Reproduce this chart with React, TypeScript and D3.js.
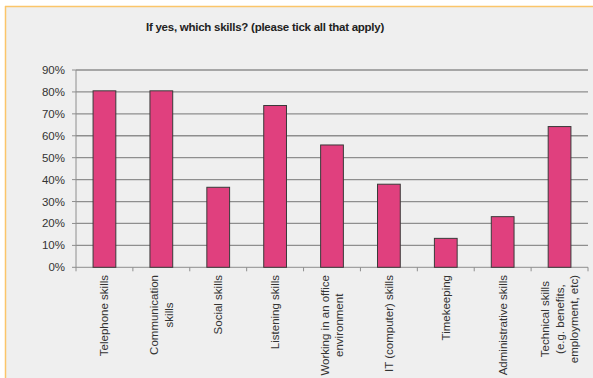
import React from "react";
import * as d3 from "d3";

const categories: string[][] = [
  ["Telephone skills"],
  ["Communication", "skills"],
  ["Social skills"],
  ["Listening skills"],
  ["Working in an office", "environment"],
  ["IT (computer) skills"],
  ["Timekeeping"],
  ["Administrative skills"],
  ["Technical skills", "(e.g. benefits,", "employment, etc)"],
];
const values: number[] = [0.805, 0.805, 0.365, 0.738, 0.558, 0.379, 0.132, 0.231, 0.642];
const yTicks: number[] = [0, 0.1, 0.2, 0.3, 0.4, 0.5, 0.6, 0.7, 0.8, 0.9];
const title = "If yes, which skills? (please tick all that apply)";

const W = 593, H = 378;
const left = 76, right = 588, top = 70, bottom = 267.3;
const font = "Arial, 'Liberation Sans', sans-serif";
const labelSize = 11.5;

function measure(s: string): number {
  try {
    const c = document.createElement("canvas").getContext("2d")!;
    c.font = `${labelSize}px ${font}`;
    return c.measureText(s).width;
  } catch {
    return s.length * 6;
  }
}

export default function App() {
  const keys = categories.map((_, i) => String(i));
  const x = d3.scaleBand<string>().domain(keys).range([left, right]).paddingInner(0.6).paddingOuter(0.3);
  const y = d3.scaleLinear().domain([0, 0.9]).range([bottom, top]);
  const step = x.step();
  const fmt = d3.format(".0%");
  return (
    <svg width={W} height={H} style={{ position: "absolute", left: 0, top: 0 }} fontFamily={font}>
      <rect x={0} y={0} width={W} height={H} fill="#ffffff" />
      <rect x={5} y={6} width={W - 5} height={H - 6} fill="#efefef" />
      <line x1={5} y1={6.5} x2={W} y2={6.5} stroke="#fbc56a" strokeWidth={1.5} />
      <line x1={5.5} y1={6} x2={5.5} y2={H} stroke="#fbc56a" strokeWidth={1.5} />
      <text x={146} y={31} fontSize={11.5} fontWeight="bold" fill="#222" letterSpacing={-0.25}>{title}</text>
      {yTicks.map((t) => (
        <g key={t}>
          {t > 0 && (
            <line x1={left} x2={right} y1={y(t)} y2={y(t)} stroke="#8e8e8e" strokeWidth={1.3} />
          )}
          <line x1={left - 4} x2={left} y1={y(t)} y2={y(t)} stroke="#8e8e8e" strokeWidth={1} />
          <text x={65} y={y(t)} dy="0.35em" textAnchor="end" fontSize={11.5} fill="#333">{fmt(t)}</text>
        </g>
      ))}
      <line x1={left} x2={left} y1={top} y2={bottom} stroke="#8e8e8e" strokeWidth={1} />
      <line x1={left} x2={right} y1={bottom} y2={bottom} stroke="#8e8e8e" strokeWidth={1} />
      {d3.range(categories.length + 1).map((i) => (
        <line key={i} x1={left + i * step} x2={left + i * step} y1={bottom} y2={bottom + 4} stroke="#8e8e8e" strokeWidth={1} />
      ))}
      {values.map((v, i) => (
        <rect key={i} x={x(String(i))!} y={y(v)} width={x.bandwidth()} height={bottom - y(v)} fill="#e0407e" stroke="#3a3a3a" strokeWidth={1} />
      ))}
      {categories.map((lines, i) => {
        const cx = x(String(i))! + x.bandwidth() / 2;
        const lh = 14.5;
        const n = lines.length;
        const maxW = d3.max(lines, measure) || 0;
        const cy = 275 + maxW / 2;
        return lines.map((ln, j) => {
          const off = (j - (n - 1) / 2) * lh;
          return (
            <text key={i + "-" + j} transform={`translate(${cx + off},${cy}) rotate(-90)`} textAnchor="middle" dy="0.35em" fontSize={labelSize} fill="#333">
              {ln}
            </text>
          );
        });
      })}
    </svg>
  );
}
